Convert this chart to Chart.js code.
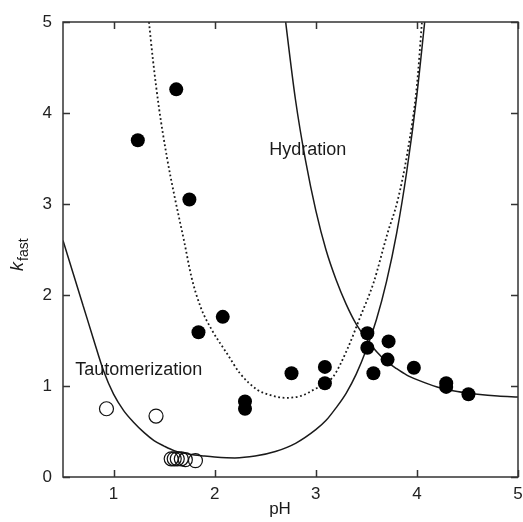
<!DOCTYPE html>
<html>
<head>
<meta charset="utf-8">
<script src="https://cdn.jsdelivr.net/npm/chart.js@4.4.0/dist/chart.umd.min.js"></script>
<style>
  html, body { margin: 0; padding: 0; background: #fff; }
</style>
</head>
<body>
<canvas id="chart" width="523" height="522"></canvas>
<script>
// Datos (pH, k_fast)
const filledPH = [1.24, 1.62, 1.75, 1.84, 2.08, 2.30, 2.30, 2.76, 3.09, 3.09, 3.51, 3.51, 3.57, 3.72, 3.71, 3.97, 4.29, 4.29, 4.51];
const filledK  = [3.70, 4.26, 3.05, 1.59, 1.76, 0.83, 0.75, 1.14, 1.21, 1.03, 1.58, 1.42, 1.14, 1.49, 1.29, 1.20, 1.03, 0.99, 0.91];

const openPH = [0.93, 1.42, 1.57, 1.60, 1.63, 1.67, 1.71, 1.81];
const openK  = [0.75, 0.67, 0.20, 0.20, 0.20, 0.20, 0.19, 0.18];

// Curva de tautomerizacion (linea continua)
const tautPH = [0.5, 0.6, 0.7, 0.8, 0.9, 1.0, 1.1, 1.2, 1.3, 1.4, 1.5, 1.6, 1.75, 1.9, 2.0, 2.2, 2.4, 2.6, 2.8, 3.0, 3.1, 3.2, 3.3, 3.4, 3.5, 3.6, 3.7, 3.8, 3.9, 4.0, 4.08];
const tautK  = [2.60, 2.24, 1.88, 1.52, 1.17, 0.91, 0.73, 0.60, 0.49, 0.40, 0.34, 0.29, 0.25, 0.23, 0.22, 0.21, 0.23, 0.28, 0.37, 0.52, 0.62, 0.76, 0.92, 1.13, 1.40, 1.73, 2.15, 2.68, 3.36, 4.20, 5.03];

// Curva de hidratacion (linea continua)
const hydPH = [2.68, 2.8, 2.9, 3.0, 3.1, 3.2, 3.3, 3.4, 3.5, 3.6, 3.7, 3.8, 3.9, 4.0, 4.2, 4.4, 4.6, 4.8, 5.0];
const hydK  = [5.20, 4.14, 3.47, 2.93, 2.50, 2.17, 1.90, 1.68, 1.52, 1.38, 1.27, 1.19, 1.12, 1.07, 0.99, 0.94, 0.91, 0.89, 0.88];

// Curva punteada
const dotPH = [1.35, 1.39, 1.45, 1.53, 1.60, 1.70, 1.77, 1.86, 1.97, 2.12, 2.25, 2.42, 2.55, 2.70, 2.85, 2.98, 3.17, 3.31, 3.44, 3.57, 3.71, 3.81, 3.91, 4.00, 4.05];
const dotK  = [5.00, 4.58, 4.05, 3.50, 3.10, 2.58, 2.20, 1.87, 1.62, 1.36, 1.14, 0.96, 0.90, 0.87, 0.89, 0.96, 1.10, 1.40, 1.76, 2.13, 2.68, 3.04, 3.59, 4.30, 5.00];

const xTicks = [1, 2, 3, 4, 5];
const yTicks = [0, 1, 2, 3, 4, 5];

const toPoints = (xs, ys) => xs.map((v, i) => ({ x: v, y: ys[i] }));

const ink = '#1a1a1a';
const font = 'Liberation Sans, Arial, sans-serif';

// Marco, marcas hacia dentro y textos
const framePlugin = {
    id: 'framePlugin',
    afterDraw(chart) {
        const { ctx, chartArea: a, scales: { x, y } } = chart;
        ctx.save();
        ctx.strokeStyle = '#333';
        ctx.lineWidth = 1.5;
        ctx.strokeRect(a.left, a.top, a.right - a.left, a.bottom - a.top);
        ctx.beginPath();
        xTicks.forEach(v => {
            const px = Math.round(x.getPixelForValue(v)) + 0.5;
            ctx.moveTo(px, a.bottom); ctx.lineTo(px, a.bottom - 7);
            ctx.moveTo(px, a.top); ctx.lineTo(px, a.top + 7);
        });
        yTicks.forEach(v => {
            const py = Math.round(y.getPixelForValue(v)) + 0.5;
            ctx.moveTo(a.left, py); ctx.lineTo(a.left + 7, py);
            ctx.moveTo(a.right, py); ctx.lineTo(a.right - 7, py);
        });
        ctx.stroke();

        ctx.fillStyle = ink;
        ctx.textBaseline = 'alphabetic';
        ctx.textAlign = 'left';
        ctx.font = '18px ' + font;
        ctx.fillText('Hydration', x.getPixelForValue(2.54), y.getPixelForValue(3.54));
        ctx.fillText('Tautomerization', x.getPixelForValue(0.62), y.getPixelForValue(1.12));

        ctx.font = '17px ' + font;
        ctx.textAlign = 'center';
        ctx.fillText('pH', 280, 514);

        // k_fast girado
        ctx.translate(23, 271);
        ctx.rotate(-Math.PI / 2);
        ctx.textAlign = 'left';
        ctx.font = 'italic 18px ' + font;
        ctx.fillText('k', 0, 0);
        const kw = ctx.measureText('k').width;
        ctx.font = '14px ' + font;
        ctx.fillText('fast', kw + 1, 5);
        ctx.restore();
    }
};

const ctx = document.getElementById('chart').getContext('2d');
new Chart(ctx, {
    type: 'scatter',
    data: {
        datasets: [
            {
                label: 'filled',
                data: toPoints(filledPH, filledK),
                pointRadius: 7,
                pointBackgroundColor: '#000',
                pointBorderColor: '#000',
                pointBorderWidth: 0,
                order: 1
            },
            {
                label: 'open',
                data: toPoints(openPH, openK),
                pointRadius: 7,
                pointBackgroundColor: 'rgba(0,0,0,0)',
                pointBorderColor: '#111',
                pointBorderWidth: 1.2,
                order: 1
            },
            {
                label: 'Tautomerization',
                data: toPoints(tautPH, tautK),
                showLine: true,
                pointRadius: 0,
                borderColor: ink,
                borderWidth: 1.5,
                cubicInterpolationMode: 'monotone',
                order: 2
            },
            {
                label: 'Hydration',
                data: toPoints(hydPH, hydK),
                showLine: true,
                pointRadius: 0,
                borderColor: ink,
                borderWidth: 1.5,
                cubicInterpolationMode: 'monotone',
                order: 2
            },
            {
                label: 'dotted',
                data: toPoints(dotPH, dotK),
                showLine: true,
                pointRadius: 0,
                borderColor: ink,
                borderWidth: 1.8,
                borderDash: [1.8, 2.6],
                cubicInterpolationMode: 'monotone',
                order: 2
            }
        ]
    },
    options: {
        responsive: false,
        animation: false,
        devicePixelRatio: 1,
        layout: { autoPadding: false, padding: { top: 22, right: 5, left: 0, bottom: 0 } },
        plugins: {
            legend: { display: false },
            tooltip: { enabled: false }
        },
        scales: {
            x: {
                type: 'linear',
                min: 0.5,
                max: 5,
                grid: { display: false, drawTicks: false },
                border: { display: false },
                afterBuildTicks: scale => { scale.ticks = xTicks.map(v => ({ value: v })); },
                afterFit: scale => {
                    scale.height = 45;
                    scale.paddingLeft = 0;
                    scale.paddingRight = 0;
                },
                ticks: {
                    padding: 7,
                    color: '#222',
                    font: { family: font, size: 17 }
                }
            },
            y: {
                type: 'linear',
                min: 0,
                max: 5,
                grid: { display: false, drawTicks: false },
                border: { display: false },
                afterBuildTicks: scale => { scale.ticks = yTicks.map(v => ({ value: v })); },
                afterFit: scale => {
                    scale.width = 63;
                    scale.paddingTop = 0;
                    scale.paddingBottom = 0;
                },
                ticks: {
                    padding: 11,
                    color: '#222',
                    font: { family: font, size: 17 }
                }
            }
        }
    },
    plugins: [framePlugin]
});
</script>
</body>
</html>
